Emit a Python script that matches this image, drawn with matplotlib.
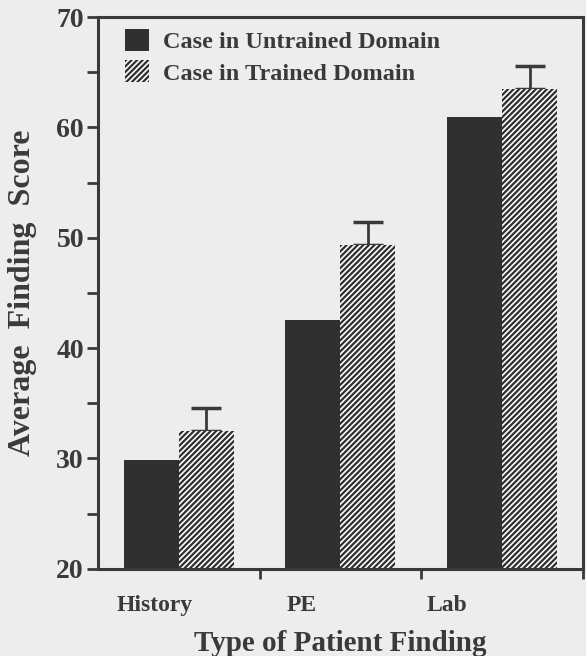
import matplotlib.pyplot as plt
import numpy as np

# data
categories = ["History", "PE", "Lab"]
untrained = [29.9, 42.5, 60.9]
trained = [32.5, 49.3, 63.5]
trained_err = [2.1, 2.1, 2.1]
series_names = ["Case in Untrained Domain", "Case in Trained Domain"]

bg = '#ededed'
ink = '#3a3a3a'
bar_col = '#303030'

plt.rcParams['font.family'] = ['Liberation Serif', 'DejaVu Serif']
plt.rcParams['font.weight'] = 'bold'
plt.rcParams['hatch.linewidth'] = 1.2

fig = plt.figure(figsize=(5.86, 6.56), dpi=100, facecolor=bg)
ax = fig.add_axes([0.167, 0.133, 0.828, 0.841])
ax.set_facecolor(bg)

x = np.arange(len(categories)) + 0.5
w = 0.34

ax.bar(x - w/2, untrained, width=w, color=bar_col, linewidth=0,
       label=series_names[0], zorder=2)
ax.bar(x + w/2, trained, width=w, color=bar_col, edgecolor='white', hatch='//////',
       linewidth=0, label=series_names[1], zorder=2)
ax.errorbar(x + w/2, trained, yerr=[[0]*3, trained_err], fmt='none', ecolor=ink,
            elinewidth=2, capsize=11, capthick=2.5, zorder=1)

ax.set_xlim(0, 3)
ax.set_ylim(20, 70)
ax.set_yticks([20, 30, 40, 50, 60, 70])
ax.set_yticks([25, 35, 45, 55, 65], minor=True)
ax.set_xticks([1, 2, 3])
ax.set_xticklabels([])

# category labels sit a little left of their bar groups in the original
label_shift = [0.15, 0.24, 0.34]
for i, c in enumerate(categories):
    ax.text(x[i] - label_shift[i], 16.7, c, ha='center', va='center', fontsize=17,
            fontweight='bold', color=ink, clip_on=False)

ax.tick_params(axis='y', which='both', direction='out', length=8, width=2,
               color=ink, labelcolor=ink, labelsize=20, pad=2)
ax.tick_params(axis='x', direction='out', length=7, width=2, color=ink)
for s in ax.spines.values():
    s.set_linewidth(2.2)
    s.set_color(ink)

ax.set_ylabel("Average  Finding  Score", fontsize=23, fontweight='bold', color=ink)
ax.yaxis.set_label_coords(-0.126, 0.5)
ax.text(1.5, 13.2, "Type of Patient Finding", ha='center', va='center', fontsize=21,
        fontweight='bold', color=ink, clip_on=False)

leg = ax.legend(loc='upper left', bbox_to_anchor=(0.025, 1.005), frameon=False,
                fontsize=17.5, handlelength=1.0, handleheight=1.0, handletextpad=0.6,
                labelspacing=0.3, borderaxespad=0.2)
for t in leg.get_texts():
    t.set_color(ink)

fig.savefig("out.png", dpi=100, facecolor=bg)
